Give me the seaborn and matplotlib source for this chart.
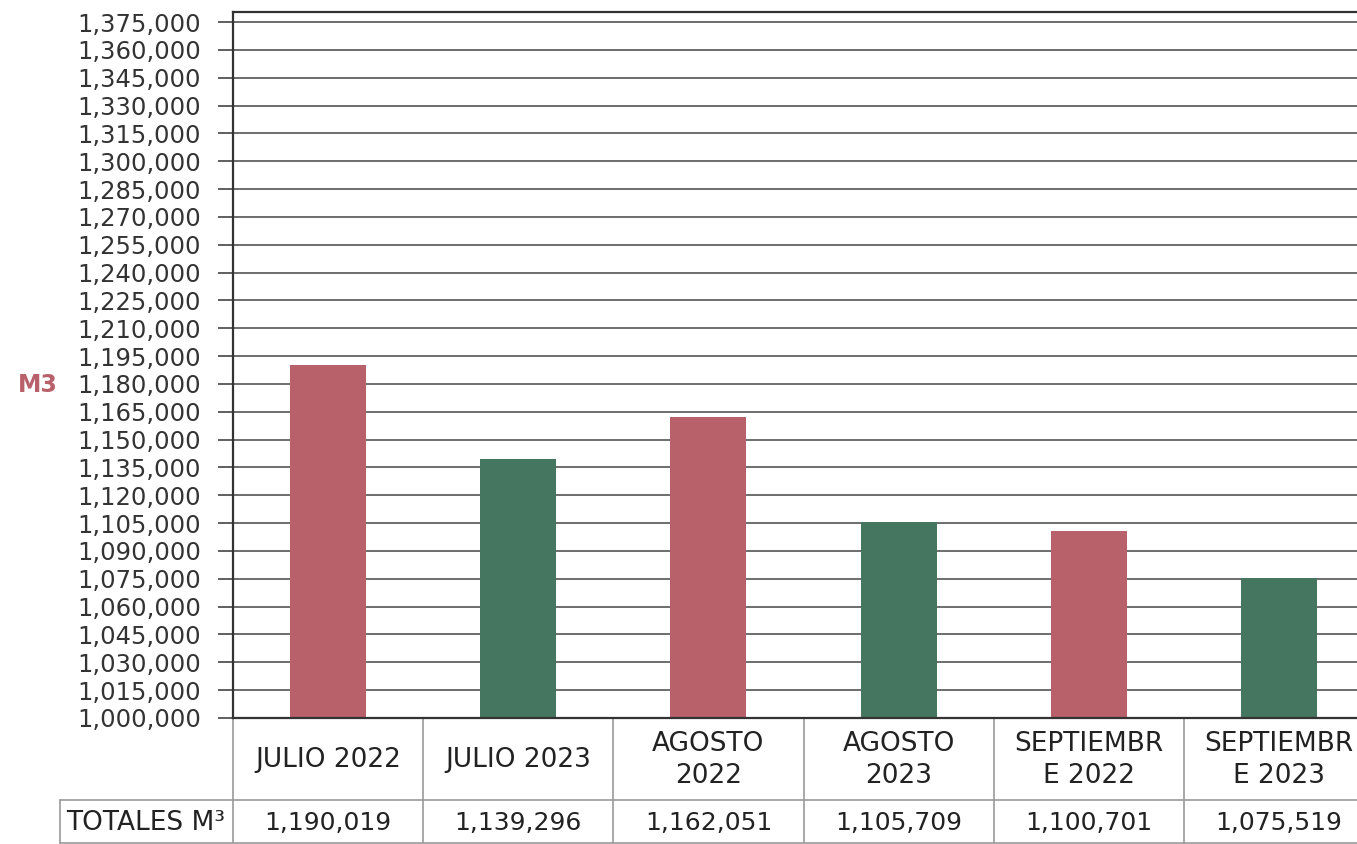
import numpy as np
import matplotlib
matplotlib.use("Agg")
import matplotlib.pyplot as plt
import matplotlib.transforms as mtransforms
import seaborn as sns

# datos
meses = ["JULIO 2022", "JULIO 2023", "AGOSTO\n2022", "AGOSTO\n2023", "SEPTIEMBR\nE 2022", "SEPTIEMBR\nE 2023"]
totales = [1190019, 1139296, 1162051, 1105709, 1100701, 1075519]
totales_txt = ["1,190,019", "1,139,296", "1,162,051", "1,105,709", "1,100,701", "1,075,519"]
colores = ["#B9616B", "#45765F", "#B9616B", "#45765F", "#B9616B", "#45765F"]
yticks = list(range(1000000, 1375001, 15000))

sns.set_theme(style="white")
plt.rcParams['font.family'] = ['DejaVu Sans']

fig = plt.figure(figsize=(13.57, 8.44), dpi=100)
ax = fig.add_axes([233/1357, 1-718/844, 1141/1357, 706/844])

sns.barplot(x=list(range(len(meses))), y=totales, hue=list(range(len(meses))),
            palette=colores, legend=False, width=0.4, saturation=1, linewidth=0, ax=ax)

ax.set_ylim(1000000, 1380400)
ax.set_xlim(-0.5, len(meses)-0.5)
ax.set_yticks(yticks)
ax.set_yticklabels([f"{v:,}" for v in yticks], fontsize=17.5, color="#333333")
ax.tick_params(axis="y", length=11, width=1.2, color="#444444", pad=12, left=True)
ax.set_xticks([])
ax.yaxis.grid(True, color="#555555", linewidth=1.2)
ax.set_axisbelow(True)
for s in ["left", "bottom", "top"]:
    ax.spines[s].set_color("#333333")
    ax.spines[s].set_linewidth(1.6)
ax.spines["right"].set_visible(False)
ax.set_xlabel("")
ax.set_ylabel("")

fig.text(38/1357, 1-385/844, "M3", color="#B9616B", fontsize=17, fontweight="bold",
         ha="center", va="center")

# tabla debajo del grafico
tr = mtransforms.blended_transform_factory(ax.transData, fig.transFigure)
y_top = 1-718/844
y_mid = 1-800/844
y_bot = 1-843/844
lc = "#999999"
for i in range(len(meses)+1):
    ax.plot([i-0.5, i-0.5], [y_top, y_bot], color=lc, lw=1.2, transform=tr, clip_on=False)
ax.plot([-0.5, len(meses)-0.5], [y_mid, y_mid], color=lc, lw=1.2, transform=tr, clip_on=False)
fig.add_artist(plt.Line2D([60/1357, 233/1357], [y_mid, y_mid], color=lc, lw=1.2))
fig.add_artist(plt.Line2D([60/1357, 1.0], [y_bot, y_bot], color=lc, lw=1.2))
fig.add_artist(plt.Line2D([60/1357, 60/1357], [y_mid, y_bot], color=lc, lw=1.2))

for i, m in enumerate(meses):
    ax.text(i, 1-760/844, m, transform=tr, ha="center", va="center", fontsize=19,
            color="#222222", linespacing=1.3)
    ax.text(i, 1-823/844, totales_txt[i], transform=tr, ha="center", va="center",
            fontsize=18, color="#222222")
fig.text(146/1357, 1-823/844, "TOTALES M³", ha="center", va="center", fontsize=19,
         color="#222222")

fig.savefig("out.png", dpi=100)
